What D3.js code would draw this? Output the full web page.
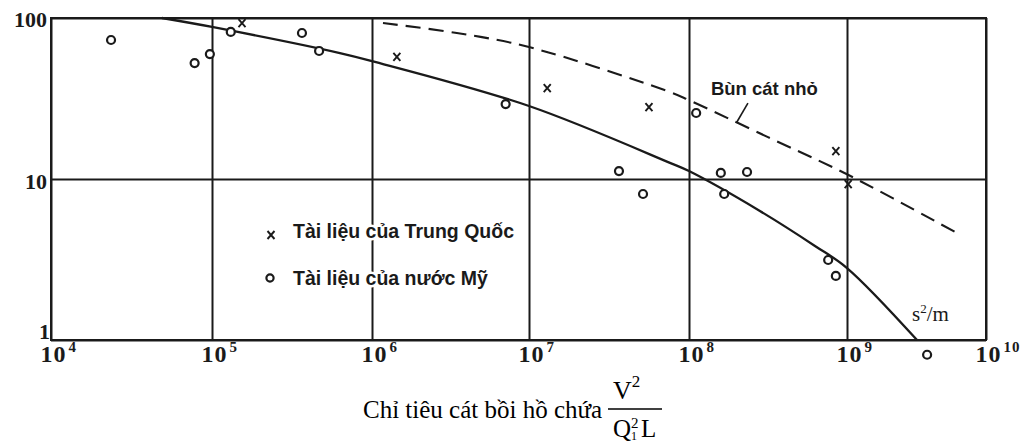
<!DOCTYPE html>
<html><head><meta charset="utf-8">
<script src="https://cdn.jsdelivr.net/npm/d3@7"></script>
<style>body{margin:0;background:#fff} svg{display:block}</style>
</head><body>
<svg id="chart" width="1020" height="445"></svg>
<script>
// ---- data ----
const xTickValues = [1e4, 1e5, 1e6, 1e7, 1e8, 1e9, 1e10];
const xTickExponents = ["4", "5", "6", "7", "8", "9", "10"];
const yTickValues = [1, 10, 100];
const yTickLabels = ["1", "10", "100"];

// Tài liệu của nước Mỹ (circles)
const usX = [2.36e4, 7.8e4, 9.7e4, 1.31e5, 3.65e5, 4.67e5, 7.1e6, 3.65e7, 5.16e7, 1.11e8, 1.59e8, 2.33e8, 1.67e8, 7.6e8, 8.5e8, 3.77e9];
const usY = [73, 52.5, 59.7, 82, 80.7, 62.4, 29.2, 11.2, 8.07, 25.7, 10.9, 11.05, 8.07, 3.14, 2.5, 0.81];
// Tài liệu của Trung Quốc (crosses)
const cnX = [1.54e5, 1.44e6, 1.3e7, 5.62e7, 8.5e8, 1.02e9];
const cnY = [93, 57.3, 36.7, 28, 14.9, 9.3];
// solid curve
const solidX = [4.89e4, 1e5, 6.3e5, 1e6, 1e7, 7.6e7, 1e8, 2.81e8, 6.27e8, 1e9, 3.19e9];
const solidY = [100, 88, 60.6, 54, 28.4, 12.6, 11.2, 6.33, 3.84, 2.8, 1];
// dashed curve (Bùn cát nhỏ)
const dashX = [1.175e6, 3.47e6, 1e7, 7.6e7, 1e8, 3.16e8, 1e9, 5.98e9];
const dashY = [93, 80.7, 66, 34.7, 30.9, 18.2, 10.7, 4.69];

const legendLabels = ["Tài liệu của Trung Quốc", "Tài liệu của nước Mỹ"];
const curveLabel = "Bùn cát nhỏ";
const curveLabelAt = [3.0e8, 33.2];
const leaderFrom = [2.36e8, 29.6];
const leaderTo = [2.01e8, 22.6];
const unitAt = [2.94e9, 1.31];
const captionText = "Chỉ tiêu cát bồi hồ chứa";

// ---- drawing ----
const svg = d3.select("#chart");
const L = 51, R = 986, T = 18, B = 340;
const ink = "#1a1a1a";
const x = d3.scaleLog().domain(xTickValues).range([51, 212, 372, 529, 689, 847, 986]);
const y = d3.scaleLog().domain([1, 100]).range([B, T]);
const serif = "'Liberation Serif','Times New Roman',serif";
const sans = "'Liberation Sans',Arial,sans-serif";

// vertical grid + x labels
const gx = svg.append("g").attr("transform", `translate(0,${B})`)
  .call(d3.axisBottom(x).tickValues(xTickValues).tickSize(-(B - T)).tickFormat(() => ""));
gx.select(".domain").remove();
gx.selectAll(".tick line").attr("stroke", ink).attr("stroke-width", 2);
gx.selectAll(".tick text").remove();
gx.selectAll(".tick").each(function(d, i) {
  const t = d3.select(this).append("text")
    .attr("x", -11).attr("y", 22)
    .attr("fill", ink).attr("font-family", serif).attr("font-weight", "bold")
    .attr("font-size", 24).attr("text-anchor", "start").attr("letter-spacing", 1);
  t.append("tspan").text("10");
  t.append("tspan").attr("dy", -10).attr("dx", 2).attr("font-size", 15).text(xTickExponents[i]);
});

// horizontal grid + y labels
const gy = svg.append("g").attr("transform", `translate(${L},0)`)
  .call(d3.axisLeft(y).tickValues(yTickValues).tickSize(-(R - L)).tickFormat(() => ""));
gy.select(".domain").remove();
gy.selectAll(".tick line").attr("stroke", ink).attr("stroke-width", 2);
gy.selectAll(".tick text").remove();
gy.selectAll(".tick").append("text")
  .attr("x", (d) => d === 1 ? -1 : -4)
  .attr("y", (d) => d === 1 ? -2 : (d === 10 ? 9 : 8))
  .attr("text-anchor", "end")
  .attr("fill", ink).attr("font-family", serif).attr("font-weight", "bold")
  .attr("font-size", 22)
  .text((d, i) => yTickLabels[i]);

// frame
svg.append("rect").attr("x", L).attr("y", T).attr("width", R - L).attr("height", B - T)
  .attr("fill", "none").attr("stroke", ink).attr("stroke-width", 2);

// curves
const line = d3.line().x(d => x(d[0])).y(d => y(d[1])).curve(d3.curveCatmullRom.alpha(0.5));
svg.append("path").datum(d3.zip(solidX, solidY)).attr("d", line)
  .attr("fill", "none").attr("stroke", ink).attr("stroke-width", 2.3);
svg.append("path").datum(d3.zip(dashX, dashY)).attr("d", line)
  .attr("fill", "none").attr("stroke", ink).attr("stroke-width", 2.1)
  .attr("stroke-dasharray", "15,8");

// points
svg.append("g").selectAll("circle").data(d3.zip(usX, usY)).join("circle")
  .attr("cx", d => x(d[0])).attr("cy", d => y(d[1])).attr("r", 4)
  .attr("fill", "#fff").attr("stroke", ink).attr("stroke-width", 2.2);
const crossPath = "M-3.5,-4L3.5,4M3.5,-4L-3.5,4";
svg.append("g").selectAll("path").data(d3.zip(cnX, cnY)).join("path")
  .attr("transform", d => `translate(${x(d[0])},${y(d[1])})`)
  .attr("d", crossPath).attr("fill", "none").attr("stroke", ink).attr("stroke-width", 1.9);

// curve label + leader
svg.append("line")
  .attr("x1", x(leaderFrom[0])).attr("y1", y(leaderFrom[1]))
  .attr("x2", x(leaderTo[0])).attr("y2", y(leaderTo[1]))
  .attr("stroke", ink).attr("stroke-width", 1.6);
svg.append("text").attr("x", x(curveLabelAt[0])).attr("y", y(curveLabelAt[1]))
  .attr("text-anchor", "middle").attr("font-family", sans).attr("font-weight", "bold")
  .attr("font-size", 18.5).attr("fill", ink).text(curveLabel);

// unit label
const ut = svg.append("text").attr("x", x(unitAt[0])).attr("y", y(unitAt[1]))
  .attr("font-family", serif).attr("font-size", 21).attr("fill", ink);
ut.append("tspan").text("s");
ut.append("tspan").attr("dy", -8).attr("font-size", 13).text("2");
ut.append("tspan").attr("dy", 8).text("/m");

// legend
const legY = [238, 285];
const lg = svg.append("g");
lg.append("path").attr("transform", `translate(271,${legY[0] - 3})`).attr("d", crossPath)
  .attr("fill", "none").attr("stroke", ink).attr("stroke-width", 1.9);
lg.append("circle").attr("cx", 270).attr("cy", legY[1] - 7).attr("r", 3.6)
  .attr("fill", "#fff").attr("stroke", ink).attr("stroke-width", 2.2);
lg.selectAll("text").data(legendLabels).join("text")
  .attr("x", 293).attr("y", (d, i) => legY[i])
  .attr("font-family", sans).attr("font-weight", "bold").attr("font-size", 19.5)
  .attr("fill", ink).attr("stroke", "#fff").attr("stroke-width", 5)
  .attr("paint-order", "stroke").attr("stroke-linejoin", "round")
  .text(d => d);

// caption
svg.append("text").attr("x", 363).attr("y", 418)
  .attr("font-family", serif).attr("font-size", 25).attr("fill", "#000").text(captionText);
const num = svg.append("text").attr("x", 613).attr("y", 399)
  .attr("font-family", serif).attr("font-size", 26).attr("fill", "#000");
num.append("tspan").text("V");
num.append("tspan").attr("dy", -12).attr("font-size", 17).text("2");
svg.append("line").attr("x1", 608).attr("x2", 662).attr("y1", 409).attr("y2", 409)
  .attr("stroke", "#000").attr("stroke-width", 1.3);
const den = svg.append("text").attr("x", 613).attr("y", 437)
  .attr("font-family", serif).attr("font-size", 25).attr("fill", "#000");
den.append("tspan").text("Q");
den.append("tspan").attr("x", 631).attr("dy", -9).attr("font-size", 15).text("2");
den.append("tspan").attr("x", 631).attr("dy", 12).attr("font-size", 12).text("1");
den.append("tspan").attr("x", 641).attr("dy", -3).text("L");
</script>
</body></html>
